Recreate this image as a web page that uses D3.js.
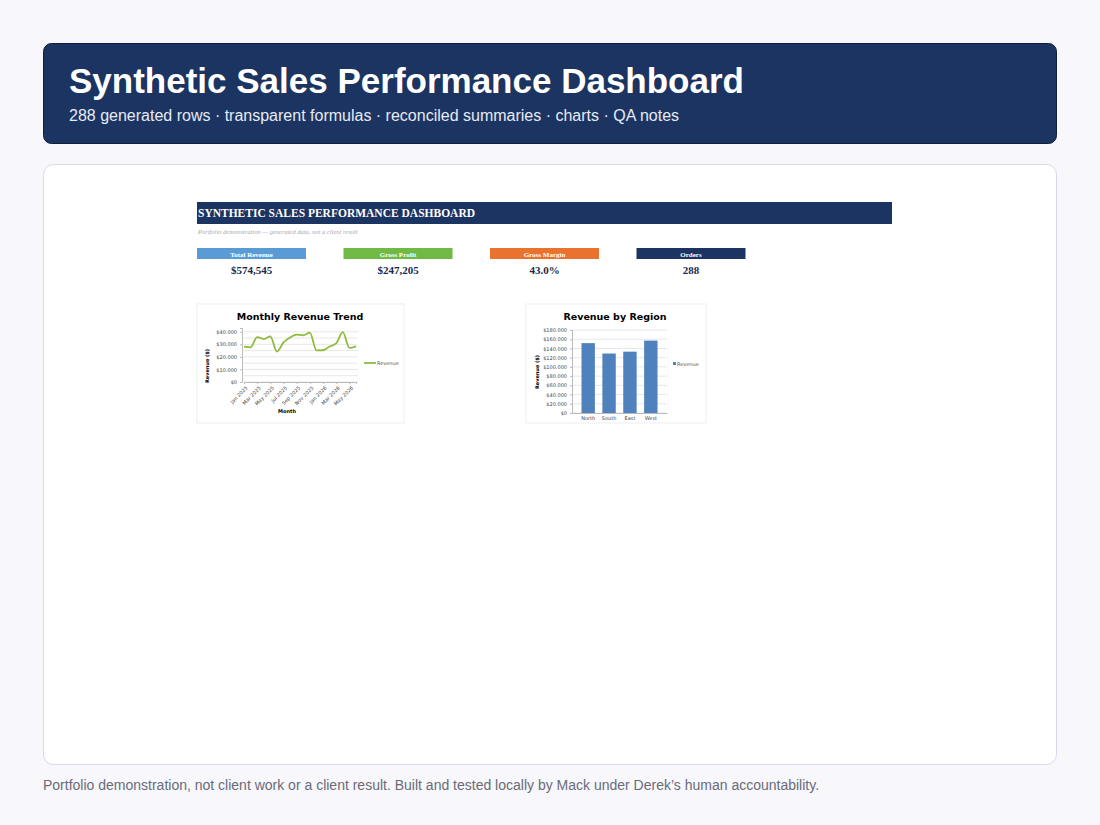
<!DOCTYPE html>
<html><head><meta charset="utf-8">
<script src="https://cdn.jsdelivr.net/npm/d3@7"></script>
<style>
body{margin:0;background:#f7f7fc;font-family:"Liberation Sans",Arial,sans-serif;}
svg{display:block}
</style></head><body>
<svg id="c" width="1100" height="825"></svg>
<script>
(function() {
    'use strict';

    // DATA
    var months = ['Jan 2025','Feb 2025','Mar 2025','Apr 2025','May 2025','Jun 2025','Jul 2025','Aug 2025','Sep 2025',
        'Oct 2025','Nov 2025','Dec 2025','Jan 2026','Feb 2026','Mar 2026','Apr 2026','May 2026','Jun 2026'];
    var monthlyRevenue = [28200, 27600, 35800, 34200, 36300, 24200, 31500, 35400, 37800, 37200, 39300, 25200,
        25300, 28300, 30800, 39700, 27100, 28400];
    var regions = ['North', 'South', 'East', 'West'];
    var regionRevenue = [151500, 129000, 133000, 157000];
    var kpiLabels = ['Total Revenue', 'Gross Profit', 'Gross Margin', 'Orders'];
    var kpiValues = ['$574,545', '$247,205', '43.0%', '288'];
    var kpiColors = ['#5b9bd5', '#70b944', '#e8722e', '#1b3461'];

    var svg = d3.select('#c');
    var money = function(d) { return '$' + d3.format(',')(d).replace(/,/g, '.'); };

    // HEADER
    svg.append('rect').attr('x', 43.5).attr('y', 43.5).attr('width', 1013).attr('height', 100)
        .attr('rx', 8).attr('fill', '#1b3461').attr('stroke', '#0e1f3d');
    svg.append('text').attr('x', 69).attr('y', 93).attr('fill', '#fff')
        .attr('font-size', 35).attr('font-weight', 'bold').text('Synthetic Sales Performance Dashboard');
    svg.append('text').attr('x', 69).attr('y', 121).attr('fill', '#e6ebf5').attr('font-size', 16)
        .text('288 generated rows · transparent formulas · reconciled summaries · charts · QA notes');

    // CARD
    svg.append('rect').attr('x', 43.5).attr('y', 164.5).attr('width', 1013).attr('height', 600)
        .attr('rx', 10).attr('fill', '#fff').attr('stroke', '#d8d8ee');
    svg.append('text').attr('x', 43).attr('y', 790).attr('fill', '#6b6b78').attr('font-size', 14)
        .text('Portfolio demonstration, not client work or a client result. Built and tested locally by Mack under Derek\u2019s human accountability.');

    // SHEET TITLE
    svg.append('rect').attr('x', 197).attr('y', 202).attr('width', 695).attr('height', 22).attr('fill', '#1b3461');
    svg.append('text').attr('x', 198).attr('y', 217).attr('fill', '#fff').attr('font-family', 'Liberation Serif, serif')
        .attr('font-weight', 'bold').attr('font-size', 11.5).text('SYNTHETIC SALES PERFORMANCE DASHBOARD');
    svg.append('text').attr('x', 198).attr('y', 234).attr('fill', '#aaa').attr('font-family', 'Liberation Serif, serif')
        .attr('font-style', 'italic').attr('font-size', 6.5).text('Portfolio demonstration \u2014 generated data, not a client result');

    // KPI
    var kpi = svg.selectAll('g.kpi').data(kpiLabels).enter().append('g')
        .attr('transform', function(d, i) { return 'translate(' + (197 + i * 146.5) + ',248)'; });
    kpi.append('rect').attr('width', 109).attr('height', 11).attr('fill', function(d, i) { return kpiColors[i]; });
    kpi.append('text').attr('x', 54.5).attr('y', 8.5).attr('text-anchor', 'middle').attr('fill', '#fff')
        .attr('font-family', 'Liberation Serif, serif').attr('font-weight', 'bold').attr('font-size', 7).text(function(d) { return d; });
    kpi.append('text').attr('x', 54.5).attr('y', 274 - 248).attr('text-anchor', 'middle').attr('fill', '#1b2a4a')
        .attr('font-family', 'Liberation Serif, serif').attr('font-weight', 'bold').attr('font-size', 11)
        .text(function(d, i) { return kpiValues[i]; });

    function frame(x, y, w, h, title, cx) {
        svg.append('rect').attr('x', x).attr('y', y).attr('width', w).attr('height', h)
            .attr('fill', '#fff').attr('stroke', '#eee');
        svg.append('text').attr('x', cx).attr('y', y + 16).attr('text-anchor', 'middle')
            .attr('font-family', 'DejaVu Sans, sans-serif').attr('font-weight', 'bold').attr('font-size', 9.5).text(title);
    }
    function styleAxis(g) {
        g.selectAll('text').attr('font-family', 'DejaVu Sans, sans-serif').attr('font-size', 5).attr('fill', '#444');
        g.selectAll('line').attr('stroke', '#bbb');
        g.select('.domain').attr('stroke', '#bbb');
    }

    // LINE CHART
    frame(197, 304, 207, 119, 'Monthly Revenue Trend', 300);
    var x = d3.scalePoint().domain(months).range([244, 356]);
    var y = d3.scaleLinear().domain([0, 43000]).range([382, 328]);
    var yg = svg.append('g').attr('transform', 'translate(242,0)')
        .call(d3.axisLeft(y).tickValues([0, 10000, 20000, 30000, 40000]).tickFormat(money).tickSize(2));
    styleAxis(yg);
    svg.append('g').selectAll('line').data(d3.range(0, 43000, 5000)).enter().append('line')
        .attr('x1', 242).attr('x2', 358).attr('y1', function(d) { return y(d); }).attr('y2', function(d) { return y(d); })
        .attr('stroke', '#d6d6d6').attr('stroke-width', 0.6);
    var xg = svg.append('g').attr('transform', 'translate(0,382)')
        .call(d3.axisBottom(x).tickValues(months.filter(function(d, i) { return i % 2 === 0; })).tickSize(2));
    styleAxis(xg);
    xg.selectAll('text').attr('text-anchor', 'end').attr('transform', 'rotate(-45)').attr('dx', '-2').attr('dy', '2');
    svg.append('path').datum(monthlyRevenue)
        .attr('d', d3.line().x(function(d, i) { return x(months[i]); }).y(function(d) { return y(d); }).curve(d3.curveMonotoneX))
        .attr('fill', 'none').attr('stroke', '#8fbb3c').attr('stroke-width', 1.8);
    svg.append('text').attr('transform', 'translate(209,366) rotate(-90)').attr('text-anchor', 'middle')
        .attr('font-family', 'DejaVu Sans, sans-serif').attr('font-weight', 'bold').attr('font-size', 5).text('Revenue ($)');
    svg.append('text').attr('x', 287).attr('y', 413).attr('text-anchor', 'middle')
        .attr('font-family', 'DejaVu Sans, sans-serif').attr('font-weight', 'bold').attr('font-size', 5).text('Month');
    svg.append('line').attr('x1', 364).attr('x2', 376).attr('y1', 363).attr('y2', 363).attr('stroke', '#8fbb3c').attr('stroke-width', 1.8);
    svg.append('text').attr('x', 377).attr('y', 365).attr('font-family', 'DejaVu Sans, sans-serif').attr('font-size', 5)
        .attr('fill', '#555').text('Revenue');

    // BAR CHART
    frame(526, 304, 180, 119, 'Revenue by Region', 615);
    var bx = d3.scaleBand().domain(regions).range([572, 667]).padding(0.55);
    var by = d3.scaleLinear().domain([0, 180000]).range([413, 330]);
    svg.append('g').selectAll('line').data(by.ticks(9)).enter().append('line')
        .attr('x1', 572).attr('x2', 667).attr('y1', function(d) { return by(d); }).attr('y2', function(d) { return by(d); })
        .attr('stroke', '#d9d3e6').attr('stroke-width', 0.6);
    var byg = svg.append('g').attr('transform', 'translate(572,0)')
        .call(d3.axisLeft(by).ticks(9).tickFormat(money).tickSize(2));
    styleAxis(byg);
    var bxg = svg.append('g').attr('transform', 'translate(0,413)').call(d3.axisBottom(bx).tickSize(0));
    styleAxis(bxg);
    svg.append('g').selectAll('rect').data(regionRevenue).enter().append('rect')
        .attr('x', function(d, i) { return bx(regions[i]) - 2; }).attr('width', bx.bandwidth() + 4)
        .attr('y', function(d) { return by(d); }).attr('height', function(d) { return 413 - by(d); })
        .attr('fill', '#4f81bd');
    svg.append('text').attr('transform', 'translate(539,372) rotate(-90)').attr('text-anchor', 'middle')
        .attr('font-family', 'DejaVu Sans, sans-serif').attr('font-weight', 'bold').attr('font-size', 5).text('Revenue ($)');
    svg.append('rect').attr('x', 673).attr('y', 362).attr('width', 3).attr('height', 3).attr('fill', '#4f81bd');
    svg.append('text').attr('x', 677).attr('y', 365.5).attr('font-family', 'DejaVu Sans, sans-serif').attr('font-size', 5)
        .attr('fill', '#555').text('Revenue');
}());
</script>
</body></html>
